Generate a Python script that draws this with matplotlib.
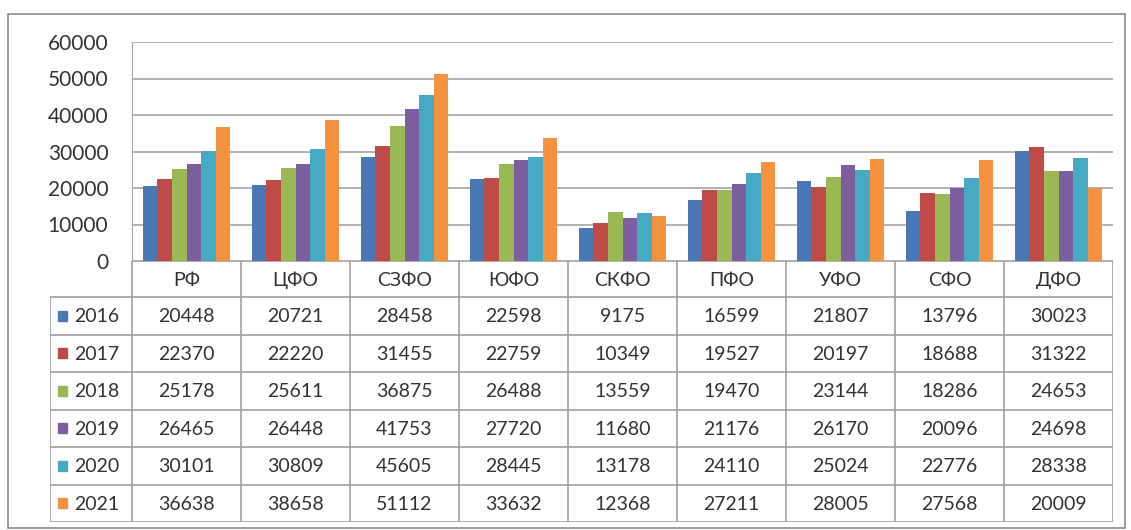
import matplotlib
matplotlib.use("Agg")
import matplotlib.pyplot as plt
from matplotlib.patches import Rectangle
import numpy as np

categories = ["РФ", "ЦФО", "СЗФО", "ЮФО", "СКФО", "ПФО", "УФО", "СФО", "ДФО"]
years = ["2016", "2017", "2018", "2019", "2020", "2021"]
v2016 = [20448, 20721, 28458, 22598, 9175, 16599, 21807, 13796, 30023]
v2017 = [22370, 22220, 31455, 22759, 10349, 19527, 20197, 18688, 31322]
v2018 = [25178, 25611, 36875, 26488, 13559, 19470, 23144, 18286, 24653]
v2019 = [26465, 26448, 41753, 27720, 11680, 21176, 26170, 20096, 24698]
v2020 = [30101, 30809, 45605, 28445, 13178, 24110, 25024, 22776, 28338]
v2021 = [36638, 38658, 51112, 33632, 12368, 27211, 28005, 27568, 20009]
series = [v2016, v2017, v2018, v2019, v2020, v2021]
colors = ["#4A78B5", "#BE4B48", "#98B954", "#7D5FA0", "#46AAC5", "#F59240"]
yticks = [0, 10000, 20000, 30000, 40000, 50000, 60000]

W, H = 1131, 530
fig = plt.figure(figsize=(W / 100, H / 100), dpi=100)
plt.rcParams['font.family'] = ['Lato', 'DejaVu Sans']

def fx(px):
    return px / W

def fy(py):
    return 1 - py / H

grid_c = "#A6A6A6"
text_c = "#333333"

# outer chart frame
fig.add_artist(Rectangle((fx(8), fy(528)), fx(1125) - fx(8), fy(14) - fy(528),
                         transform=fig.transFigure, fill=False, edgecolor="#8C8C8C", lw=1.2))

L, R, T, B = 132, 1113, 42, 261
ax = fig.add_axes([fx(L), fy(B), fx(R) - fx(L), fy(T) - fy(B)])
n = len(categories)
x = np.arange(n)
bw = 0.8 / len(series)
for i, (vals, c) in enumerate(zip(series, colors)):
    ax.bar(x - 0.4 + bw * (i + 0.5), vals, width=bw, color=c, zorder=3)
ax.set_xlim(-0.5, n - 0.5)
ax.set_ylim(0, 60000)
ax.set_yticks(yticks)
ax.set_yticklabels([str(t) for t in yticks], fontsize=15, color=text_c)
ax.yaxis.grid(True, color=grid_c, lw=1.2, zorder=0)
ax.set_xticks([])
for s in ["top", "right", "bottom"]:
    ax.spines[s].set_visible(False)
ax.spines["left"].set_color(grid_c)
ax.tick_params(axis="y", length=0, pad=17)

# data table
TB = 522
HR = 297
tax = fig.add_axes([fx(50), fy(TB), fx(R) - fx(50), fy(B) - fy(TB)])
tax.set_xlim(50, R)
tax.set_ylim(TB, B)
tax.axis("off")
lc = "#A0A0A0"
colw = (R - L) / n
tax.plot([L, R], [B, B], color=lc, lw=1.2)
rowh = (TB - HR) / len(years)
for k in range(len(years) + 1):
    yy = HR + k * rowh
    tax.plot([50, R], [yy, yy], color=lc, lw=1.2)
tax.plot([50, 50], [HR, TB], color=lc, lw=1.2)
for j in range(n + 1):
    xx = L + j * colw
    tax.plot([xx, xx], [B, TB], color=lc, lw=1.2)
for j, cat in enumerate(categories):
    tax.text(L + (j + 0.5) * colw, (B + HR) / 2 + 1, cat, ha="center", va="center",
             fontsize=14, color=text_c)
for k, (yr, vals, c) in enumerate(zip(years, series, colors)):
    yc = HR + (k + 0.5) * rowh
    tax.add_patch(Rectangle((58, yc - 5), 9, 10, color=c))
    tax.text(74, yc + 1, yr, ha="left", va="center", fontsize=14, color=text_c)
    for j, v in enumerate(vals):
        tax.text(L + (j + 0.5) * colw, yc + 1, str(v), ha="center", va="center",
                 fontsize=14, color=text_c)

fig.savefig("out.png", dpi=100)
